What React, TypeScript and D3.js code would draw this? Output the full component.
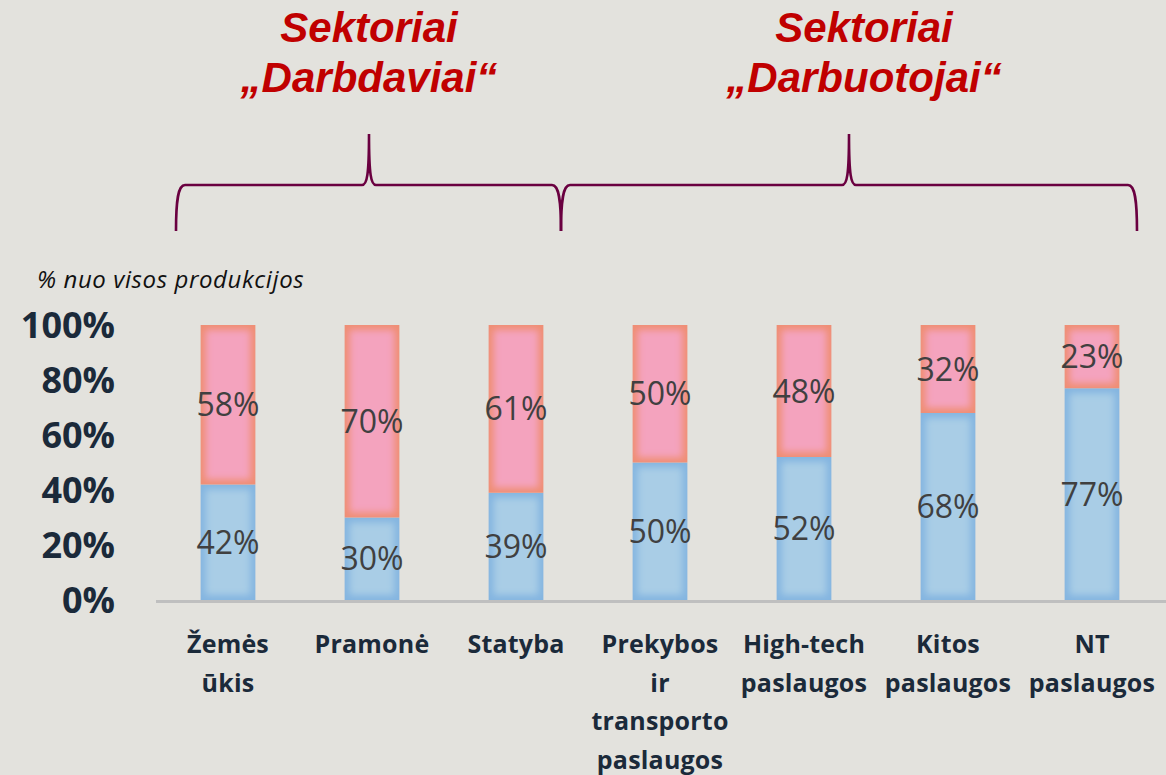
import React, { useEffect } from "react";
import * as d3 from "d3";

const categories = ["Žemės ūkis", "Pramonė", "Statyba", "Prekybos ir transporto paslaugos", "High-tech paslaugos", "Kitos paslaugos", "NT paslaugos"];
const categoryLines = [["Žemės", "ūkis"], ["Pramonė"], ["Statyba"], ["Prekybos", "ir", "transporto", "paslaugos"], ["High-tech", "paslaugos"], ["Kitos", "paslaugos"], ["NT", "paslaugos"]];
const blueValues = [42, 30, 39, 50, 52, 68, 77];
const pinkValues = [58, 70, 61, 50, 48, 32, 23];
const yTicks = [0, 20, 40, 60, 80, 100];
const groups = [
  { title: ["Sektoriai", "„Darbdaviai“"], from: 176, to: 561, peak: 369, titleX: 369 },
  { title: ["Sektoriai", "„Darbuotojai“"], from: 561, to: 1137, peak: 849, titleX: 864 },
];

const W = 1166, H = 775;

export default function App() {
  useEffect(() => { document.body.style.margin = "0"; }, []);
  const x = d3.scaleBand<string>().domain(categories).range([156, 1164]).paddingInner(0.62).paddingOuter(0.31);
  const y = d3.scaleLinear().domain([0, 100]).range([600, 325]);
  const bw = x.bandwidth();

  const bracePath = (a: number, b: number, p: number) => {
    const top = 134, mid = 185, bot = 231;
    const path = d3.path();
    path.moveTo(a, bot);
    path.bezierCurveTo(a, 200, a + 2, mid, a + 9, mid);
    path.lineTo(p - 7, mid);
    path.bezierCurveTo(p - 2, mid, p, 175, p, top);
    path.bezierCurveTo(p, 175, p + 2, mid, p + 7, mid);
    path.lineTo(b - 9, mid);
    path.bezierCurveTo(b - 2, mid, b, 200, b, bot);
    return path.toString();
  };

  const seg = (key: string, x0: number, y0: number, h: number, edge: string, center: string) => (
    <g key={key}>
      <clipPath id={"c" + key}><rect x={x0} y={y0} width={bw} height={h} /></clipPath>
      <rect x={x0} y={y0} width={bw} height={h} fill={edge} />
      <g clipPath={`url(#c${key})`}>
        <rect x={x0 + 5} y={y0 + 5} width={bw - 10} height={Math.max(0, h - 10)} fill={center} filter="url(#blur)" />
      </g>
    </g>
  );

  return (
    <svg width={W} height={H} style={{ display: "block", background: "#E3E2DD" }}>
      <defs>
        <filter id="blur" x="-20%" y="-20%" width="140%" height="140%">
          <feGaussianBlur stdDeviation="3.5" />
        </filter>
      </defs>
      <rect width={W} height={H} fill="#E3E2DD" />
      {groups.map((g, i) => (
        <g key={i}>
          {g.title.map((t, j) => (
            <text key={j} x={g.titleX} y={42 + j * 50} textAnchor="middle" fontFamily="Liberation Sans, Arial, sans-serif" fontWeight="bold" fontStyle="italic" fontSize={42} fill="#C00000">{t}</text>
          ))}
          <path d={bracePath(g.from, g.to, g.peak)} fill="none" stroke="#6A0040" strokeWidth={2.6} />
        </g>
      ))}
      <text x={37} y={288} fontFamily="Open Sans, sans-serif" fontStyle="italic" fontSize={24} letterSpacing={0.6} fill="#111">% nuo visos produkcijos</text>
      {yTicks.map((t) => (
        <text key={t} x={115} y={y(t)} dy="0.36em" textAnchor="end" fontFamily="Open Sans, sans-serif" fontWeight="bold" fontSize={36} fill="#1B2A3A">{t}%</text>
      ))}
      {categories.map((c, i) => {
        const x0 = x(c)!;
        const b = blueValues[i], p = pinkValues[i];
        return (
          <g key={c}>
            {seg("b" + i, x0, y(b), y(0) - y(b), "#84B5E0", "#A9CDE6")}
            {seg("p" + i, x0, y(b + p), y(b) - y(b + p), "#EF8E74", "#F4A3BE")}
            <text x={x0 + bw / 2} y={(y(0) + y(b)) / 2} dy="0.36em" textAnchor="middle" fontFamily="Open Sans, sans-serif" fontSize={32} fill="#404040">{b}%</text>
            <text x={x0 + bw / 2} y={(y(b) + y(b + p)) / 2} dy="0.36em" textAnchor="middle" fontFamily="Open Sans, sans-serif" fontSize={32} fill="#404040">{p}%</text>
            {categoryLines[i].map((l, j) => (
              <text key={j} x={x0 + bw / 2} y={653 + j * 38.5} textAnchor="middle" fontFamily="Open Sans, sans-serif" fontWeight="bold" fontSize={25} letterSpacing={0.2} fill="#1B2A3A">{l}</text>
            ))}
          </g>
        );
      })}
      <line x1={156} x2={1166} y1={601.5} y2={601.5} stroke="#BFBFBF" strokeWidth={3} />
    </svg>
  );
}
